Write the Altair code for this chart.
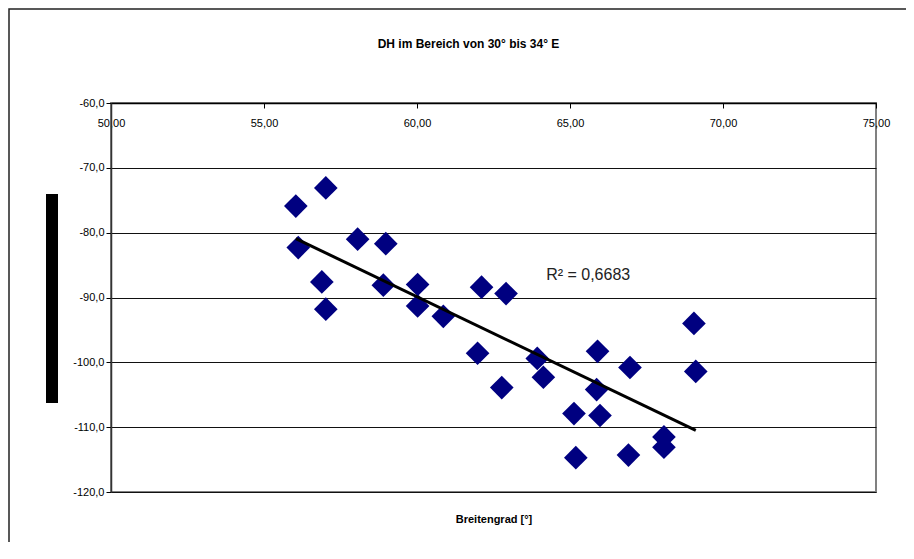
import altair as alt
import pandas as pd

# Latitude [°] and DH values
lat = [56.04, 57.02, 56.12, 56.89, 57.02, 58.06, 58.98, 58.90, 60.02, 60.02,
       60.86, 62.11, 62.91, 61.98, 62.77, 63.93, 64.13, 65.90, 66.96, 65.87,
       65.13, 65.98, 65.19, 66.91, 68.07, 68.07, 69.05, 69.11]
dh = [-75.9, -73.1, -82.3, -87.6, -91.8, -81.0, -81.7, -88.1, -88.0, -91.3,
      -92.9, -88.4, -89.4, -98.6, -103.9, -99.4, -102.3, -98.3, -100.8, -104.2,
      -107.9, -108.2, -114.7, -114.3, -111.5, -113.1, -94.0, -101.4]

title_text = "DH im Bereich von 30° bis 34° E"
x_title = "Breitengrad [°]"
r2_label = ["R² = 0,6683"]
r2_x = [64.22]
r2_y = [-86.5]

FONT = "Liberation Sans"

df = pd.DataFrame({"lat": lat, "dh": dh})

xscale = alt.Scale(domain=[50, 75], nice=False, zero=False)
yscale = alt.Scale(domain=[-120, -60], nice=False, zero=False)

x_axis = alt.Axis(
    orient="bottom", offset=-389, values=[50, 55, 60, 65, 70, 75],
    labelExpr="replace(format(datum.value, '.2f'), '.', ',')",
    labelFont=FONT, labelFontSize=11, labelColor="#000", labelPadding=9,
    labelFlush=False, labelOverlap=False,
    tickColor="#000", tickSize=5, domainColor="#000", domainWidth=1.5,
    grid=False, title=x_title, titleFont=FONT, titleFontSize=11,
    titleFontWeight="bold", titleColor="#000", titleY=416,
    titleBaseline="middle", titleAnchor="middle",
)
y_axis = alt.Axis(
    values=[-120, -110, -100, -90, -80, -70, -60],
    labelExpr="(datum.value < 0 ? '-' : '') + replace(format(abs(datum.value), '.1f'), '.', ',')",
    labelFont=FONT, labelFontSize=11, labelColor="#000", labelPadding=2,
    tickColor="#000", tickSize=5, domainColor="#333", domainWidth=1.5,
    grid=True, gridColor="#111", gridWidth=1, gridOpacity=1, title=None,
)

points = alt.Chart(df).mark_point(
    shape="diamond", filled=True, size=560, color="#000080", opacity=1
).encode(
    x=alt.X("lat:Q", scale=xscale, axis=x_axis),
    y=alt.Y("dh:Q", scale=yscale, axis=y_axis),
)

trend = alt.Chart(df).transform_regression("lat", "dh").mark_line(
    color="#000", strokeWidth=3
).encode(x="lat:Q", y="dh:Q")

r2 = alt.Chart(pd.DataFrame({"t": r2_label, "x": r2_x, "y": r2_y})).mark_text(
    align="left", baseline="middle", font=FONT, fontSize=16, color="#222"
).encode(x="x:Q", y="y:Q", text="t:N")

one = pd.DataFrame({"a": [0]})
ytitle_bar = alt.Chart(one).mark_rect(color="#000").encode(
    x=alt.value(-65), x2=alt.value(-53), y=alt.value(91), y2=alt.value(300)
)
frame = alt.Chart(one).mark_rect(
    fillOpacity=0, stroke="#222", strokeWidth=1.5
).encode(
    x=alt.value(-102), x2=alt.value(1100), y=alt.value(-94), y2=alt.value(700)
)

chart = alt.layer(frame, ytitle_bar, points, trend, r2).properties(
    width=765, height=389,
    autosize=alt.AutoSizeParams(type="none"),
    padding={"left": 103, "top": 95, "right": 30, "bottom": 50},
    title=alt.TitleParams(
        title_text, font=FONT, fontSize=12, fontWeight="bold", color="#000",
        frame="group", anchor="middle", offset=0, dx=-25, dy=43,
    ),
).configure_view(stroke="#808080", strokeWidth=2)

chart.save("out.html", embed_options={"renderer": "svg", "actions": False})
